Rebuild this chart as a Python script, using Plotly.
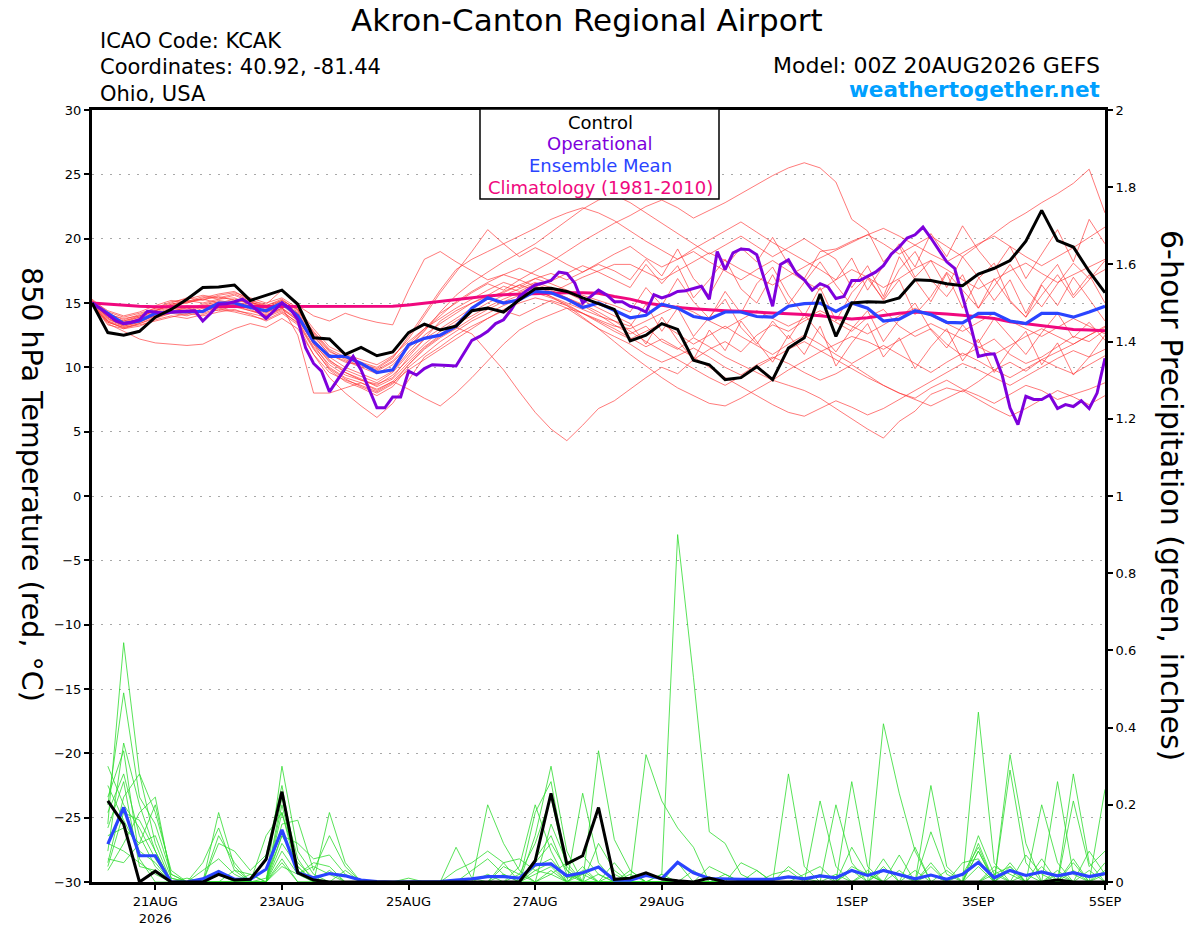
import pandas as pd
import plotly.graph_objects as go

# time axes: GEFS 6-hourly, operational 3-hourly
t6 = pd.date_range("2026-08-20 00:00", periods=65, freq="6h")
t3 = pd.date_range("2026-08-20 00:00", periods=129, freq="3h")
tick_dates = ["2026-08-21", "2026-08-23", "2026-08-25", "2026-08-27",
              "2026-08-29", "2026-09-01", "2026-09-03", "2026-09-05"]
tick_text = ["21AUG<br>2026", "23AUG", "25AUG", "27AUG", "29AUG", "1SEP", "3SEP", "5SEP"]
temp_ticks = [-30, -25, -20, -15, -10, -5, 0, 5, 10, 15, 20, 25, 30]
precip_ticks = [0, 0.2, 0.4, 0.6, 0.8, 1, 1.2, 1.4, 1.6, 1.8, 2]
precip_text = ["0", "0.2", "0.4", "0.6", "0.8", "1", "1.2", "1.4", "1.6", "1.8", "2"]

# 850 hPa temperature (C)
control_t = [15.0, 12.7, 12.5, 12.8, 13.9, 14.5, 15.3, 16.2, 16.25, 16.4,
             15.2, 15.6, 16.0, 14.9, 12.3, 12.2, 11.0, 11.55, 10.9, 11.2,
             12.7, 13.35, 12.9, 13.2, 14.4, 14.6, 14.3, 15.25, 16.1, 16.15,
             15.9, 15.4, 14.95, 14.5, 12.05, 12.5, 13.4, 12.95, 10.55, 10.2,
             9.05, 9.2, 10.05, 9.05, 11.5, 12.3, 15.7, 12.4, 15.0, 15.1,
             15.05, 15.4, 16.8, 16.75, 16.5, 16.35, 17.25, 17.7, 18.3, 19.8,
             22.2, 19.85, 19.35, 17.45, 15.8]
mean_t = [15.0, 14.2, 13.4, 13.6, 14.2, 14.3, 14.35, 14.35, 15.0, 15.0,
          14.65, 14.4, 15.0, 14.0, 12.0, 10.85, 10.85, 10.3, 9.6, 9.8,
          11.75, 12.25, 12.5, 13.2, 14.6, 15.4, 15.0, 15.25, 15.9, 15.8,
          15.3, 14.65, 15.0, 14.4, 13.85, 14.05, 14.9, 14.6, 13.95, 13.75,
          14.3, 14.3, 13.95, 13.9, 14.75, 14.95, 15.0, 14.35, 15.0, 14.6,
          13.6, 13.75, 14.4, 14.1, 13.5, 13.45, 14.2, 14.2, 13.6, 13.4,
          14.2, 14.2, 13.9, 14.3, 14.75]
clim_t = [15.0, 14.9, 14.8, 14.75, 14.7, 14.7, 14.7, 14.7, 14.7, 14.7,
          14.7, 14.7, 14.7, 14.7, 14.7, 14.7, 14.7, 14.7, 14.7, 14.75,
          14.85, 15.0, 15.15, 15.3, 15.45, 15.55, 15.65, 15.7, 15.75, 15.8,
          15.8, 15.8, 15.75, 15.5, 15.3, 15.0, 14.8, 14.65, 14.55, 14.45,
          14.4, 14.35, 14.3, 14.25, 14.2, 14.1, 14.0, 13.85, 13.75, 13.85,
          14.05, 14.2, 14.3, 14.25, 14.15, 14.05, 13.95, 13.8, 13.55, 13.4,
          13.25, 13.05, 12.95, 12.9, 12.85]
oper_t = [15.0, 14.6, 14.1, 13.6, 13.4, 13.5, 13.7, 14.35, 14.3, 14.2,
          14.3, 14.35, 14.4, 14.4, 13.6, 14.2, 14.9, 14.95, 15.1, 15.3,
          14.9, 14.35, 13.8, 14.4, 15.0, 14.6, 13.7, 11.5, 10.3, 9.7,
          8.1, 9.0, 9.95, 10.85, 9.8, 8.3, 6.85, 6.85, 7.7, 7.7,
          9.7, 9.4, 9.9, 10.2, 10.2, 10.15, 10.1, 11.1, 12.1, 12.4,
          12.8, 13.4, 13.7, 14.5, 15.5, 16.0, 16.4, 16.55, 16.75, 17.4,
          17.3, 16.55, 15.0, 15.5, 16.0, 15.65, 15.1, 15.1, 14.75, 14.6,
          14.3, 15.65, 15.4, 15.6, 15.9, 15.95, 16.1, 16.3, 15.3, 19.0,
          17.6, 18.9, 19.2, 19.15, 18.75, 16.8, 14.75, 18.0, 18.35, 17.3,
          16.8, 16.0, 16.5, 16.25, 15.35, 15.5, 16.75, 16.75, 17.1, 17.4,
          17.9, 18.8, 19.35, 20.05, 20.3, 20.9, 20.05, 19.15, 18.2, 17.7,
          15.5, 13.3, 10.85, 11.0, 11.05, 9.4, 6.85, 5.55, 7.75, 7.5,
          7.5, 7.85, 6.8, 7.1, 6.95, 7.4, 6.8, 8.0, 10.7]

# ensemble members, temperature
t_01 = [15.1, 14.0, 13.6, 13.9, 14.4, 14.8, 15.0, 15.3, 15.5, 15.2, 15.0, 14.8, 15.2, 14.5,
        12.5, 11.0, 10.4, 10.2, 9.8, 10.5, 11.8,
        13.0, 14.2, 15.0, 15.8, 16.5, 16.0, 16.8, 17.5, 18.2, 19.0, 19.8, 20.5, 21.2,
        21.8, 22.5, 23.0, 22.4, 21.6, 22.2, 22.8, 23.5, 24.2, 24.9, 25.5, 25.9, 25.5,
        24.4, 21.5, 20.6, 18.2, 19.4, 17.0, 18.3, 16.2, 18.6, 17.0, 15.2, 16.8, 14.2, 16.5, 18.0, 15.6, 17.2, 15.0]
t_02 = [14.9, 13.3, 13.0, 13.4, 13.8, 14.2, 14.0, 14.4, 14.7, 14.9, 14.5, 14.0, 14.6, 13.8,
        11.8, 10.0, 9.2, 8.8, 8.3, 8.9, 10.2,
        11.5, 12.4, 13.1, 12.6, 11.2, 9.8, 8.1, 6.5, 5.2, 4.3, 5.5, 6.8, 7.4,
        8.3, 9.2, 10.0, 9.5, 10.6, 11.4, 12.0, 11.2, 12.5, 13.3, 12.8, 13.6, 14.2,
        13.5, 12.8, 13.9, 14.5, 13.2, 12.4, 13.0, 11.8, 10.9, 11.5, 12.2, 11.0, 10.3, 10.8, 11.6, 12.4, 12.0, 12.9]
t_03 = [15.2, 13.8, 13.2, 13.5, 14.0, 14.3, 14.1, 14.6, 14.4, 14.8, 15.1, 14.6, 15.0, 14.2,
        12.0, 10.6, 9.6, 9.0, 8.7, 9.2, 10.8,
        12.2, 13.6, 14.4, 15.0, 15.6, 16.3, 15.9, 16.5, 16.0, 15.4, 14.8, 14.1, 13.3,
        12.6, 13.2, 12.0, 11.4, 12.3, 11.6, 10.8, 10.2, 9.6, 9.0, 8.6, 8.2, 7.6,
        6.8, 6.0, 5.2, 4.5, 5.8, 6.6, 7.9, 8.4, 8.1, 8.9, 9.8, 10.4, 9.7, 10.6, 11.2, 11.8, 12.5, 13.1]
t_04 = [15.0, 14.2, 13.7, 14.1, 14.6, 15.0, 15.4, 15.2, 15.6, 15.8, 15.4, 15.0, 15.4, 14.6,
        13.0, 11.6, 11.0, 10.6, 10.2, 10.9, 12.0,
        13.0, 13.8, 14.6, 15.3, 16.0, 16.6, 16.2, 16.9, 17.3, 16.8, 17.4, 18.0, 17.5,
        16.8, 18.4, 17.1, 19.2, 16.9, 15.6, 17.8, 19.3, 18.2, 20.1, 18.0, 16.9, 19.0,
        19.2, 19.8, 20.3, 19.6, 18.8, 19.5, 20.2, 19.4, 18.6, 19.5, 20.4, 21.3, 22.0, 22.8, 23.5, 24.3, 25.4, 22.0]
t_05 = [14.8, 13.5, 13.1, 13.3, 13.6, 13.9, 14.2, 14.0, 14.3, 14.5, 14.1, 13.6, 14.2, 13.3,
        11.0, 9.2, 8.0, 7.0, 6.1, 7.2, 9.0,
        10.8, 11.6, 12.5, 13.2, 13.8, 14.5, 15.0, 15.4, 15.1, 14.6, 13.8, 13.0, 12.4,
        11.8, 11.0, 10.4, 10.9, 11.5, 10.8, 10.0, 9.4, 10.2, 10.8, 10.3, 9.6, 9.0,
        9.5, 10.2, 9.4, 8.6, 8.0, 7.6, 8.4, 9.0, 8.3, 7.8, 7.2, 7.9, 8.6, 8.2, 7.5, 7.9, 8.3, 8.8]
t_06 = [15.0, 13.9, 13.4, 13.8, 14.3, 14.7, 14.5, 14.9, 15.2, 15.0, 14.7, 14.3, 14.9, 14.0,
        12.2, 10.8, 10.0, 9.5, 9.0, 9.7, 11.2,
        12.5, 13.4, 14.2, 15.0, 15.5, 15.8, 16.4, 16.9, 16.5, 16.0, 15.6, 15.2, 14.8,
        14.3, 16.2, 14.8, 16.9, 15.1, 13.8, 15.9, 14.2, 16.5, 17.8, 15.6, 14.0, 16.2,
        13.6, 15.8, 17.1, 15.2, 16.8, 14.1, 15.5, 17.4, 16.0, 14.6, 16.9, 15.1, 13.9, 15.6, 17.2, 15.4, 16.8, 18.3]
t_07 = [15.3, 14.3, 13.9, 14.2, 14.6, 15.1, 15.3, 15.6, 15.4, 15.7, 15.2, 14.8, 15.3, 14.4,
        12.8, 11.4, 10.8, 10.4, 10.0, 10.8, 12.2,
        14.0, 15.8, 17.4, 19.0, 20.7, 19.6, 18.6, 19.3, 18.7, 18.0, 17.4, 18.1, 18.8,
        19.4, 18.5, 17.8, 18.4, 19.0, 18.2, 17.5, 16.8, 17.6, 18.3, 17.5, 16.7, 16.0,
        16.8, 17.6, 17.0, 16.2, 16.9, 17.7, 18.3, 17.6, 16.8, 16.1, 16.8, 17.5, 18.1, 17.3, 16.6, 17.2, 17.8, 18.4]
t_08 = [15.1, 14.1, 13.5, 13.9, 14.4, 14.9, 15.1, 15.5, 15.3, 15.4, 14.9, 14.5, 15.0, 14.2,
        12.4, 11.0, 10.5, 10.0, 9.5, 10.2, 11.5,
        12.8, 14.3, 15.6, 16.6, 17.4, 18.2, 18.9, 19.6, 20.5, 21.4, 22.3, 23.0, 23.4,
        22.8, 22.0, 21.2, 20.4, 19.6, 18.8, 19.5, 20.2, 19.4, 18.6, 19.3, 20.0, 19.2,
        18.4, 16.2, 17.9, 15.5, 18.6, 16.8, 15.1, 17.3, 14.6, 16.9, 18.1, 15.2, 13.9, 16.4, 14.8, 17.0, 15.3, 13.6]
t_09 = [14.9, 13.6, 13.0, 13.2, 13.7, 14.0, 13.8, 14.1, 14.5, 14.3, 14.0, 13.7, 14.3, 13.5,
        11.5, 9.8, 8.9, 8.4, 7.8, 8.5, 10.0,
        11.0, 12.0, 12.8, 13.6, 14.2, 14.8, 15.3, 15.8, 15.4, 14.9, 14.2, 13.6, 13.0,
        12.3, 11.6, 12.2, 11.5, 10.8, 10.0, 9.2, 8.5, 7.8, 7.1, 6.5, 6.2, 6.8,
        7.4, 6.9, 6.3, 6.8, 7.5, 8.2, 8.9, 9.6, 10.3, 9.8, 9.2, 8.6, 9.3, 10.0, 10.7, 11.3, 10.8, 11.4]
t_10 = [14.9, 13.4, 12.8, 12.2, 11.9, 11.8, 11.7, 11.8, 12.4, 13.0, 13.4, 13.1, 13.8, 13.0,
        11.0, 9.6, 9.0, 8.6, 8.1, 8.8, 9.8,
        10.6, 11.4, 12.2, 13.0, 13.8, 14.4, 14.0, 14.6, 15.2, 14.8, 14.2, 13.5, 12.8,
        12.2, 12.8, 13.4, 12.6, 11.8, 12.5, 13.2, 12.4, 11.7, 11.0, 11.8, 12.5, 11.8,
        11.0, 10.3, 11.0, 11.7, 11.0, 10.3, 9.6, 10.4, 11.1, 10.5, 9.8, 9.2, 9.9, 10.6, 10.0, 9.5, 10.2, 10.9]
t_11 = [15.0, 13.7, 13.3, 13.6, 14.0, 14.4, 14.6, 14.3, 14.8, 15.1, 14.8, 14.3, 14.7, 12.5,
        8.0, 8.0, 8.4, 8.8, 8.2, 8.9, 8.3,
        7.6, 7.0, 8.0, 9.2, 10.5, 11.8, 12.9, 13.6, 14.1, 14.6, 14.2, 13.7, 13.2,
        13.0, 13.6, 14.2, 14.8, 14.3, 13.6, 13.0, 13.7, 14.4, 13.8, 13.2, 13.8, 14.4,
        13.8, 13.2, 12.6, 13.3, 14.0, 14.6, 14.0, 13.4, 12.8, 13.5, 14.2, 13.6, 13.0, 12.4, 13.1, 13.8, 13.2, 12.6]
t_12 = [15.2, 14.4, 14.0, 14.3, 14.8, 15.2, 15.0, 15.4, 15.7, 15.9, 15.2, 14.9, 16.0, 14.8,
        14.0, 13.6, 14.2, 13.8, 13.5, 13.3, 16.0,
        18.4, 19.0, 18.2, 17.5, 16.8, 17.2, 16.8, 16.3, 15.8, 16.4, 17.0, 17.5, 18.0,
        18.0, 17.4, 16.8, 17.5, 18.2, 18.9, 18.3, 17.6, 17.0, 16.4, 17.1, 17.8, 18.5,
        19.1, 19.7, 20.3, 20.8, 20.2, 19.5, 18.8, 18.2, 18.9, 19.6, 20.2, 19.4, 18.6, 17.9, 18.6, 19.3, 20.1, 20.9]
t_13 = [15.0, 13.8, 13.3, 13.7, 14.1, 14.5, 14.8, 14.6, 15.0, 14.8, 14.4, 14.1, 14.6, 13.6,
        11.6, 10.2, 9.4, 9.0, 8.6, 9.4, 10.6,
        11.8, 12.8, 13.6, 14.3, 15.0, 15.6, 16.1, 16.6, 16.2, 15.8, 15.2, 14.6, 14.0,
        13.4, 11.8, 13.9, 12.1, 10.6, 12.9, 11.3, 13.6, 12.0, 10.4, 12.5, 11.0, 13.2,
        10.1, 11.9, 13.4, 10.8, 12.3, 9.9, 11.6, 13.0, 10.5, 12.2, 9.6, 11.4, 12.8, 10.2, 11.9, 9.4, 10.8, 12.5]
t_14 = [14.9, 13.5, 13.1, 13.4, 13.9, 14.2, 14.4, 14.2, 14.6, 14.4, 14.2, 13.9, 14.4, 13.4,
        11.4, 9.9, 9.1, 8.5, 8.0, 8.7, 10.2,
        11.4, 12.3, 13.0, 13.8, 14.5, 15.1, 15.6, 16.0, 15.5, 14.8, 13.9, 13.0, 12.0,
        11.0, 10.1, 9.2, 8.4, 7.8, 7.2, 7.0, 7.6, 8.3, 9.0, 9.8, 10.5, 11.2,
        11.8, 12.4, 12.0, 11.4, 12.1, 12.8, 13.4, 12.8, 12.2, 11.6, 11.0, 11.7, 12.4, 13.0, 12.4, 11.8, 12.5, 13.2]
t_15 = [15.1, 14.0, 13.6, 14.0, 14.5, 14.9, 15.2, 15.0, 15.3, 15.6, 15.1, 14.7, 15.1, 14.3,
        12.6, 11.2, 10.7, 10.3, 9.9, 10.7, 12.4,
        14.2, 16.0, 17.6, 18.4, 19.0, 19.6, 20.2, 20.8, 21.5, 22.0, 22.4, 22.0, 21.4,
        20.6, 19.8, 19.1, 18.4, 19.2, 19.9, 20.6, 21.3, 20.5, 19.7, 19.0, 18.3, 17.6,
        16.8, 18.5, 16.0, 17.9, 19.6, 17.8, 20.4, 18.6, 21.0, 19.1, 17.6, 19.4, 16.9, 18.8, 20.7, 18.2, 21.5, 19.6]
t_16 = [15.0, 13.6, 13.2, 13.5, 14.1, 14.4, 14.3, 14.7, 15.0, 14.7, 14.4, 14.0, 14.5, 13.7,
        11.9, 10.4, 9.6, 9.1, 8.5, 9.1, 10.4,
        11.6, 12.5, 13.4, 14.0, 14.7, 15.3, 15.8, 16.3, 15.9, 15.4, 14.9, 14.3, 13.6,
        12.8, 12.0, 11.3, 10.6, 9.9, 9.2, 8.6, 9.3, 10.0, 10.7, 11.4, 12.0, 11.3,
        10.6, 9.9, 9.2, 8.6, 8.0, 7.5, 7.0, 7.6, 8.2, 7.5, 6.8, 6.2, 6.8, 7.5, 8.2, 7.7, 7.1, 7.8]
t_17 = [15.0, 14.1, 13.8, 14.0, 14.4, 14.8, 15.1, 15.3, 15.0, 15.3, 15.0, 14.6, 15.2, 14.5,
        12.7, 11.3, 10.6, 10.1, 9.7, 10.4, 11.6,
        12.9, 14.0, 15.1, 15.9, 16.6, 17.2, 17.7, 17.2, 16.7, 17.3, 17.9, 17.4, 16.8,
        16.2, 18.0, 16.5, 17.9, 15.4, 16.8, 18.4, 16.1, 15.0, 17.2, 14.9, 16.6, 18.2,
        16.4, 14.8, 16.9, 15.3, 17.6, 19.0, 16.8, 15.5, 17.2, 14.6, 16.3, 18.0, 16.1, 14.7, 16.5, 18.1, 16.9, 17.6]
t_18 = [15.1, 13.9, 13.5, 13.7, 14.2, 14.6, 14.4, 14.8, 15.1, 14.9, 14.6, 14.2, 14.8, 13.9,
        11.8, 10.5, 9.8, 9.3, 8.8, 9.6, 11.0,
        12.2, 13.0, 13.8, 14.6, 15.3, 15.9, 16.4, 16.0, 15.5, 15.0, 14.5, 14.0, 13.6,
        13.2, 14.9, 12.8, 14.6, 12.4, 13.9, 15.3, 13.1, 11.8, 13.6, 12.2, 14.1, 12.6,
        11.2, 13.0, 14.4, 12.0, 13.7, 15.0, 12.9, 11.5, 13.3, 11.9, 13.8, 12.4, 11.0, 12.7, 14.2, 12.3, 13.5, 12.1]

# 6-hour precipitation (inches), valid 06Z 20AUG onward
control_p = [.21, .15, 0, .028, 0, 0, 0, .02, .005, .007, .059, .234, .024, .005, 0, 0,
             0, 0, 0, 0, 0, 0, 0, 0, 0, 0, 0, .055, .23, .047, .068, .193,
             .007, .01, .024, .008, .003, 0, .01, 0, 0, 0, 0, 0, 0, 0, 0, 0,
             0, 0, 0, 0, 0, 0, 0, 0, 0, 0, 0, 0, .005, 0, 0, 0]
mean_p = [.098, .193, .068, .068, 0, 0, .008, .027, .007, .007, .033, .135, .024, .011, .022, .016,
          .005, .001, 0, 0, 0, .001, .005, .008, .014, .014, .01, .045, .047, .016, .024, .039,
          .005, .005, .017, .009, .051, .024, .009, .007, .007, .007, .007, .013, .008, .016, .011, .03,
          .017, .03, .018, .008, .018, .007, .02, .051, .011, .03, .017, .026, .016, .024, .014, .022]

p_01 = [.15, .62, .28, .10, 0, 0, 0, 0, 0, 0, 0, .20, .03, 0, 0, 0,
        0, 0, 0, 0, 0, 0, 0, 0, 0, 0, 0, .05, .10, .03, 0, 0,
        0, 0, 0, .02, .90, .53, .13, .10, .02, 0, 0, 0, 0, 0, 0, 0,
        0, 0, 0, 0, .04, 0, 0, .08, 0, 0, 0, 0, 0, .03, 0, 0]
p_02 = [.20, .49, .22, .15, .02, 0, 0, .18, .04, 0, 0, .30, .08, .02, 0, 0,
        0, 0, 0, 0, 0, 0, 0, 0, .20, .10, .03, 0, 0, 0, .23, .05,
        0, 0, 0, 0, 0, 0, 0, 0, 0, 0, 0, .28, .04, 0, 0, 0,
        0, .06, 0, 0, 0, 0, 0, 0, 0, .33, .10, 0, 0, 0, 0, .02]
p_03 = [.08, .36, .20, .08, 0, 0, .05, .14, .03, 0, .12, .18, .04, 0, .18, .05,
        0, 0, 0, 0, 0, 0, .09, .01, 0, 0, 0, .12, .30, .08, 0, 0,
        0, 0, .33, .21, .14, .09, 0, 0, 0, 0, 0, 0, 0, 0, 0, .26,
        .04, 0, 0, 0, 0, 0, 0, .44, .05, 0, 0, 0, .26, .02, 0, 0]
p_04 = [.05, .22, .28, .18, .03, 0, 0, 0, 0, .02, 0, .15, .16, .03, .12, .04,
        0, 0, 0, .01, 0, 0, 0, 0, 0, 0, .04, .20, .08, 0, 0, .34,
        .11, .03, 0, 0, 0, 0, 0, 0, 0, 0, 0, 0, 0, .21, .04, 0,
        0, .41, .23, .08, 0, 0, 0, 0, 0, .29, .05, 0, 0, .28, .05, 0]
p_05 = [.12, .14, .10, .20, .02, 0, .03, .06, .02, 0, 0, .12, .10, .06, .07, .02,
        0, 0, 0, 0, 0, 0, 0, 0, 0, .05, .06, .03, .02, 0, .04, 0,
        .02, 0, 0, 0, 0, 0, 0, 0, 0, 0, 0, 0, 0, 0, .20, .05,
        0, 0, 0, 0, .25, .04, 0, 0, .03, 0, 0, .20, .05, 0, 0, 0]
p_06 = [.25, .16, .08, .05, 0, .01, 0, .12, .05, 0, 0, .22, .06, 0, 0, .03,
        0, 0, 0, 0, 0, 0, 0, .03, .06, .02, 0, .18, .26, .04, 0, 0,
        0, 0, 0, 0, 0, 0, 0, .02, 0, .03, 0, 0, 0, 0, 0, 0,
        .02, 0, .07, 0, .13, .02, 0, .10, 0, 0, 0, 0, 0, .21, .04, .08]
p_07 = [.03, .10, .18, .22, .01, 0, 0, 0, .03, .02, 0, .08, .02, .04, .02, 0,
        0, 0, 0, 0, 0, 0, 0, 0, 0, .04, .02, 0, .02, .05, .07, .02,
        0, 0, 0, 0, 0, .03, 0, 0, 0, 0, 0, .04, .01, 0, 0, 0,
        0, 0, 0, .09, 0, 0, .05, .06, 0, 0, .07, .02, 0, 0, 0, .24]
p_08 = [.18, .28, .12, .04, 0, 0, 0, .10, .08, .03, .07, .25, .03, 0, 0, 0,
        0, 0, 0, 0, 0, 0, .03, .05, .08, .05, 0, .06, .12, .02, 0, 0,
        0, .03, 0, 0, 0, 0, 0, 0, .05, .03, 0, 0, 0, 0, 0, .04,
        .02, 0, 0, 0, 0, 0, 0, 0, .02, .04, 0, 0, .03, 0, 0, 0]
p_09 = [.10, .08, .05, .02, 0, 0, 0, 0, 0, 0, .01, .12, .05, .01, 0, 0,
        0, 0, 0, 0, 0, 0, 0, 0, .02, 0, 0, .04, .06, .01, .02, .04,
        0, 0, 0, .02, 0, 0, 0, 0, 0, 0, 0, 0, .02, .04, 0, .09,
        .02, 0, 0, 0, .05, 0, 0, .12, .02, 0, 0, .04, 0, 0, .08, .02]
p_10 = [.30, .20, .14, .06, 0, 0, 0, .03, 0, 0, 0, .05, 0, 0, .03, 0,
        0, 0, 0, 0, 0, 0, 0, 0, 0, 0, .02, .10, .22, .03, 0, .02,
        0, 0, 0, 0, 0, 0, .04, .02, 0, 0, 0, 0, 0, 0, 0, 0,
        0, .03, .02, 0, 0, .03, 0, .08, 0, .05, 0, 0, .02, 0, 0, 0]
p_11 = [.06, .05, .10, .12, .01, 0, 0, 0, 0, 0, 0, .18, .02, .05, .04, 0,
        0, 0, 0, 0, 0, 0, 0, 0, 0, 0, 0, .02, .04, 0, .03, 0,
        .05, 0, 0, 0, 0, 0, 0, 0, 0, 0, .02, .03, 0, 0, .02, 0,
        0, 0, 0, .03, 0, 0, 0, 0, .04, .02, 0, .06, 0, .05, 0, .03]
p_12 = [.22, .34, .06, 0, 0, 0, 0, 0, 0, 0, 0, .10, .04, 0, 0, 0,
        0, 0, 0, 0, 0, 0, 0, 0, 0, .02, 0, 0, .15, .05, 0, .10,
        .03, 0, 0, 0, 0, 0, 0, 0, 0, 0, 0, 0, 0, 0, 0, .03,
        0, .04, 0, 0, 0, 0, .02, .09, 0, .04, 0, 0, 0, 0, .03, 0]
p_13 = [.04, .18, .16, .08, 0, 0, 0, .02, 0, 0, 0, .06, 0, 0, 0, 0,
        0, 0, 0, 0, 0, 0, 0, 0, 0, 0, 0, .03, .05, 0, 0, 0,
        0, .02, 0, 0, .05, 0, 0, 0, 0, 0, 0, 0, 0, .02, 0, 0,
        0, 0, .03, 0, .02, 0, 0, 0, 0, 0, .02, 0, 0, .06, 0, 0]
p_14 = [.14, .26, .04, .03, 0, 0, 0, 0, 0, 0, 0, .04, .02, 0, 0, 0,
        0, 0, 0, 0, 0, 0, 0, 0, 0, 0, 0, 0, .03, 0, .02, 0,
        0, 0, 0, 0, 0, 0, 0, 0, 0, 0, 0, 0, 0, 0, 0, 0,
        .03, 0, 0, 0, 0, 0, 0, .04, 0, .03, 0, 0, 0, 0, 0, .05]

temp_members = [t_01, t_02, t_03, t_04, t_05, t_06, t_07, t_08, t_09,
                t_10, t_11, t_12, t_13, t_14, t_15, t_16, t_17, t_18]
precip_members = [p_01, p_02, p_03, p_04, p_05, p_06, p_07,
                  p_08, p_09, p_10, p_11, p_12, p_13, p_14]

FONT = "DejaVu Sans"
RED = "rgba(255,45,45,0.8)"
GREEN = "#2edc2e"
BLACK = "#000000"
PURPLE = "#7e00dc"
BLUE = "#2a44ff"
PINK = "#f0087e"

fig = go.Figure()

for mem in temp_members:
    fig.add_trace(go.Scatter(x=t6, y=mem, mode="lines", line=dict(color=RED, width=0.8)))
for mem in precip_members:
    fig.add_trace(go.Scatter(x=t6[1:], y=mem, mode="lines", yaxis="y2",
                             line=dict(color=GREEN, width=0.8)))

fig.add_trace(go.Scatter(x=t6, y=clim_t, mode="lines", line=dict(color=PINK, width=3)))
fig.add_trace(go.Scatter(x=t6[1:], y=mean_p, mode="lines", yaxis="y2", line=dict(color=BLUE, width=3.2)))
fig.add_trace(go.Scatter(x=t6[1:], y=control_p, mode="lines", yaxis="y2", line=dict(color=BLACK, width=3)))
fig.add_trace(go.Scatter(x=t6, y=mean_t, mode="lines", line=dict(color=BLUE, width=3.2)))
fig.add_trace(go.Scatter(x=t3, y=oper_t, mode="lines", line=dict(color=PURPLE, width=3)))
fig.add_trace(go.Scatter(x=t6, y=control_t, mode="lines", line=dict(color=BLACK, width=3)))

# plot area in page pixels: x 92..1105, y 110..882
L, R, T, B = 92, 1105, 110, 882
W, H = 1200, 927


def px(xp):
    return (xp - L) / (R - L)


def py(yp):
    return (B - yp) / (B - T)


def note(text, x, y, size, color="black", xanchor="center", angle=0, bold=False):
    if bold:
        text = "<b>" + text + "</b>"
    fig.add_annotation(text=text, x=px(x), y=py(y), xref="paper", yref="paper",
                       xanchor=xanchor, yanchor="middle", showarrow=False, textangle=angle,
                       font=dict(family=FONT, size=size, color=color))


note("Akron-Canton Regional Airport", 587, 20, 31)
note("ICAO Code: KCAK", 98, 41, 21, xanchor="left")
note("Coordinates: 40.92, -81.44", 98, 67, 21, xanchor="left")
note("Ohio, USA", 98, 94, 21, xanchor="left")
note("Model: 00Z 20AUG2026 GEFS", 1102, 65, 22, xanchor="right")
note("weathertogether.net", 1102, 90, 21.5, color="#00a0ff", xanchor="right", bold=True)
note("850 hPa Temperature (red, °C)", 31, 484, 28.5, angle=90)
note("6-hour Precipitation (green, inches)", 1172, 495, 30, angle=90)

# legend box
fig.add_shape(type="rect", xref="paper", yref="paper", x0=px(480), x1=px(719), y0=py(109), y1=py(199),
              line=dict(color="black", width=1.5), fillcolor="white", layer="above")
note("Control", 600, 122, 18, color=BLACK)
note("Operational", 600, 143, 18, color=PURPLE)
note("Ensemble Mean", 600, 165, 18, color=BLUE)
note("Climatology (1981-2010)", 600, 187, 18, color=PINK)

fig.update_layout(
    width=W, height=H,
    margin=dict(l=L, r=W - R, t=T, b=H - B),
    paper_bgcolor="white", plot_bgcolor="white",
    showlegend=False,
    font=dict(family=FONT, size=13, color="black"),
    xaxis=dict(type="date", range=[t6[0], t6[-1]], tickvals=tick_dates, ticktext=tick_text,
               ticks="outside", ticklen=5, tickwidth=1.5, tickcolor="black",
               showline=True, linecolor="black", linewidth=3, mirror=True, automargin=False,
               showgrid=False, zeroline=False, tickfont=dict(size=13)),
    yaxis=dict(range=[-30, 30], tickvals=temp_ticks, ticks="outside", ticklen=5, tickwidth=1.5,
               tickcolor="black", showline=True, linecolor="black", linewidth=3, automargin=False,
               showgrid=True, gridcolor="#a8a8a8", gridwidth=1, griddash="2px,7px",
               zeroline=False, tickfont=dict(size=13)),
    yaxis2=dict(range=[0, 2], tickvals=precip_ticks, ticktext=precip_text, overlaying="y", side="right",
                ticks="outside", ticklen=5, tickwidth=1.5, tickcolor="black", automargin=False,
                showline=True, linecolor="black", linewidth=3,
                showgrid=False, zeroline=False, tickfont=dict(size=13)),
)

# drop the default 8px page margin so the figure sits at the window's corner
fig.write_html("out.html", config={"displayModeBar": False},
               post_script="document.body.style.margin = '0';")
